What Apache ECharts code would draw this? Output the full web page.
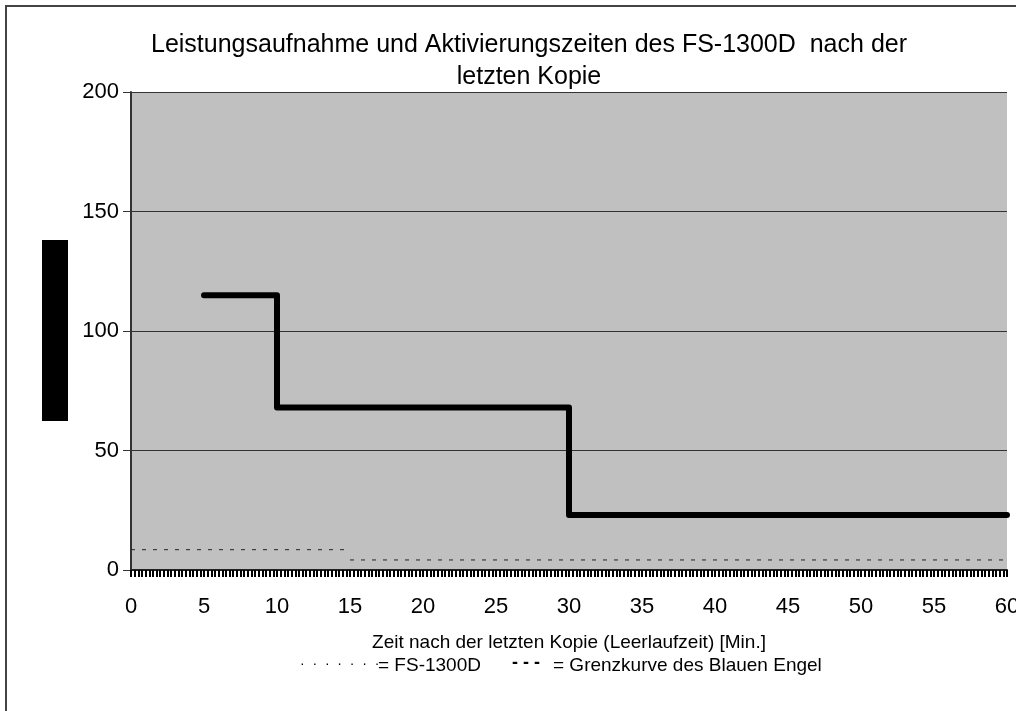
<!DOCTYPE html>
<html>
<head>
<meta charset="utf-8">
<script src="https://cdn.jsdelivr.net/npm/echarts@6/dist/echarts.min.js"></script>
<style>
  html, body { margin: 0; padding: 0; background: #fff; }
  #main { width: 1016px; height: 711px; }
</style>
</head>
<body>
<div id="main"></div>
<script>
// step curve of the device (Leistungsaufnahme in W), minutes after last copy
var powerX = [5, 10, 30, 60];
var powerY = [115, 68, 23, 23];

// dotted low lines near the bottom
var lowAX = [0, 15];
var lowAY = [8.5, 8.5];
var lowBX = [15, 60];
var lowBY = [4.2, 4.2];

var xTicks = [0, 5, 10, 15, 20, 25, 30, 35, 40, 45, 50, 55, 60];
var yTicks = [0, 50, 100, 150, 200];

function pairs(xs, ys) {
    return xs.map(function (x, i) { return [x, ys[i]]; });
}

var font = 'Liberation Sans, Arial, sans-serif';
var chart = echarts.init(document.getElementById('main'));

var option = {
    backgroundColor: '#fff',
    animation: false,
    title: {
        text: 'Leistungsaufnahme und Aktivierungszeiten des FS-1300D  nach der\nletzten Kopie',
        left: 524,
        top: 24,
        textAlign: 'center',
        textStyle: { fontFamily: font, fontSize: 25, fontWeight: 'normal', color: '#000', lineHeight: 32 }
    },
    grid: {
        left: 131, right: 9, top: 92, bottom: 141,
        outerBoundsMode: 'none',
        containLabel: false,
        show: true, backgroundColor: '#c0c0c0', borderWidth: 0
    },
    xAxis: {
        type: 'value',
        min: xTicks[0],
        max: xTicks[xTicks.length - 1],
        interval: 5,
        axisLine: { show: true, onZero: false, lineStyle: { color: '#222', width: 2 } },
        axisTick: { show: true, length: 7, lineStyle: { color: '#000', width: 2 } },
        minorTick: { show: true, splitNumber: 20, length: 7, lineStyle: { color: '#000', width: 2 } },
        splitLine: { show: false },
        axisLabel: { fontFamily: font, fontSize: 22, color: '#000', margin: 26 },
        name: 'Zeit nach der letzten Kopie (Leerlaufzeit) [Min.]',
        nameLocation: 'middle',
        nameGap: 63,
        nameTextStyle: { fontFamily: font, fontSize: 19, color: '#000' }
    },
    yAxis: {
        type: 'value',
        min: yTicks[0],
        max: yTicks[yTicks.length - 1],
        interval: 50,
        axisLine: { show: true, lineStyle: { color: '#333', width: 2 } },
        axisTick: { show: true, length: 8, lineStyle: { color: '#333', width: 1 } },
        splitLine: { show: true, lineStyle: { color: '#333', width: 1 } },
        axisLabel: { fontFamily: font, fontSize: 22, color: '#000', margin: 12 }
    },
    series: [
        {
            type: 'line',
            step: 'end',
            data: pairs(powerX, powerY),
            symbol: 'none',
            lineStyle: { color: '#000', width: 6, cap: 'round', join: 'round' }
        },
        {
            type: 'line',
            data: pairs(lowAX, lowAY),
            symbol: 'none',
            lineStyle: { color: '#222', width: 1, type: [4, 7] }
        },
        {
            type: 'line',
            data: pairs(lowBX, lowBY),
            symbol: 'none',
            lineStyle: { color: '#222', width: 1, type: [4, 7] }
        }
    ],
    graphic: [
        {
            type: 'polyline',
            shape: { points: [[6, 711], [6, 6], [1016, 6]] },
            style: { stroke: '#444', lineWidth: 2, fill: null }
        },
        {
            type: 'rect',
            shape: { x: 42, y: 240, width: 26, height: 181 },
            style: { fill: '#000' }
        },
        {
            type: 'text',
            left: 300, top: 657,
            style: { text: '·  ·  ·  ·  ·  ·  ·', fontFamily: font, fontSize: 14, fill: '#000' }
        },
        {
            type: 'text',
            left: 378, top: 656,
            style: { text: '= FS-1300D', fontFamily: font, fontSize: 19, fill: '#000' }
        },
        {
            type: 'text',
            left: 512, top: 654,
            style: { text: '- - -', fontFamily: font, fontSize: 18, fontWeight: 'bold', fill: '#000' }
        },
        {
            type: 'text',
            left: 553, top: 656,
            style: { text: '= Grenzkurve des Blauen Engel', fontFamily: font, fontSize: 19, fill: '#000' }
        }
    ]
};

chart.setOption(option);
window.onresize = chart.resize;
</script>
</body>
</html>
